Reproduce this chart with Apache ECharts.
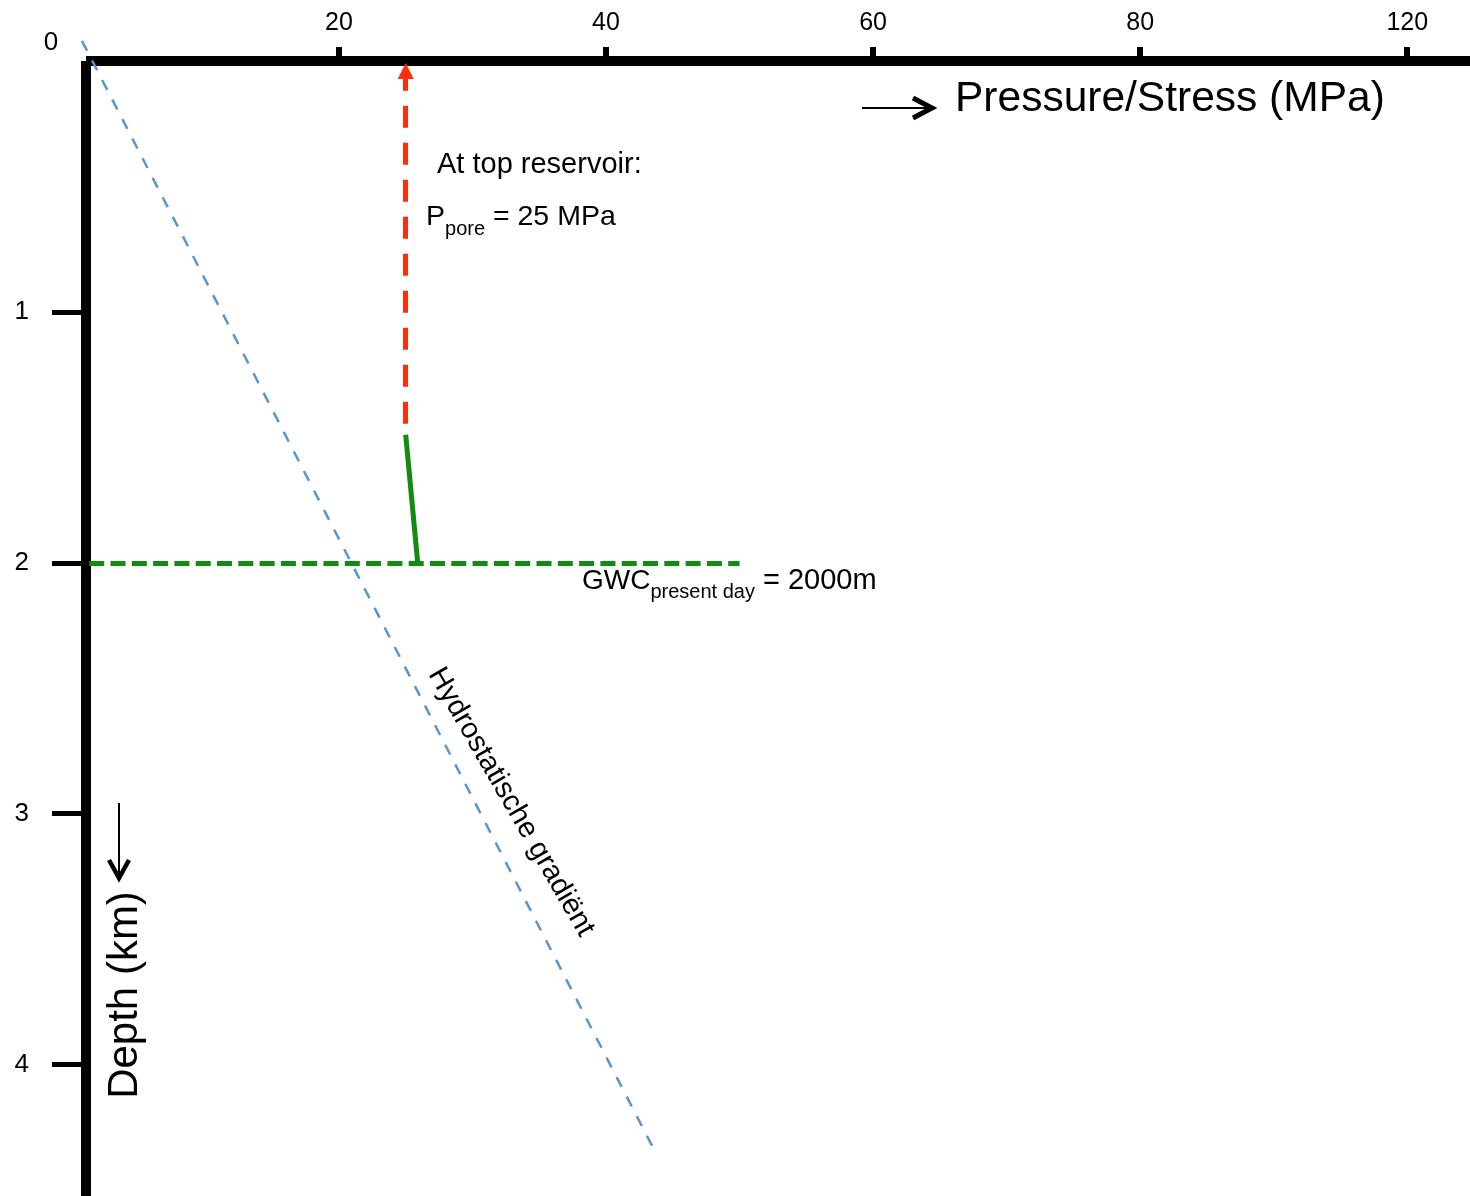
<!DOCTYPE html>
<html>
<head>
<meta charset="utf-8">
<script src="https://cdn.jsdelivr.net/npm/echarts@6/dist/echarts.min.js"></script>
<style>
  html, body { margin: 0; padding: 0; background: #ffffff; }
  #chart { width: 1470px; height: 1196px; }
</style>
</head>
<body>
<div id="chart"></div>
<script>
const FONT = '"Liberation Sans", Arial, Helvetica, sans-serif';

// Pressure axis (MPa), drawn along the top
const pressureTicks = [20, 40, 60, 80, 100];
const pressureTickLabels = ['20', '40', '60', '80', '120'];

// Depth axis (km), increasing downwards
const depthTicks = [1, 2, 3, 4];
const depthTickLabels = ['1', '2', '3', '4'];

// Line definitions as [pressure (MPa), depth (km)]
const hydrostaticGradient = [[0.76, -0.08], [43.8, 4.36]];
const porePressureTop = [[25, 1.49], [25, 0.04]];
const reservoirPressure = [[25, 1.49], [25.9, 2.0]];
const gwcPresentDay = [[1.3, 2.0], [50, 2.0]];

const chart = echarts.init(document.getElementById('chart'), null, { renderer: 'canvas' });

function lineSeries(name, coords, color, width, dash, extra) {
  return Object.assign({
    name: name,
    type: 'lines',
    coordinateSystem: 'cartesian2d',
    clip: false,
    polyline: false,
    symbol: ['none', 'none'],
    lineStyle: { color: color, width: width, type: dash || 'solid', opacity: 1, curveness: 0, cap: 'butt' },
    data: [{ coords: coords }],
    z: 3
  }, extra || {});
}

function txt(x, y, text, size, opts) {
  const o = opts || {};
  return {
    type: 'text',
    x: x, y: y,
    rotation: o.rotation || 0,
    z: 10,
    style: Object.assign({
      text: text,
      fontSize: size,
      fontFamily: FONT,
      fill: '#000',
      align: o.align || 'left',
      textAlign: o.align || 'left',
      verticalAlign: 'middle',
      textVerticalAlign: 'middle'
    }, o.style || {})
  };
}

const option = {
  animation: false,
  backgroundColor: '#ffffff',
  grid: { left: 86, right: 0, top: 61, bottom: 0, containLabel: false, outerBoundsMode: 'none' },
  xAxis: {
    type: 'value',
    position: 'top',
    min: 1.06,
    max: 104.7,
    axisLine: { show: true, onZero: false, lineStyle: { color: '#000', width: 10, cap: 'butt' } },
    axisTick: {
      show: true, inside: false, length: 14, customValues: pressureTicks,
      lineStyle: { color: '#000', width: 6 }
    },
    axisLabel: {
      show: true, margin: 25, customValues: pressureTicks,
      fontSize: 25, fontFamily: FONT, color: '#000',
      formatter: function (v) {
        const i = pressureTicks.indexOf(v);
        return i >= 0 ? pressureTickLabels[i] : '';
      }
    },
    splitLine: { show: false }
  },
  yAxis: {
    type: 'value',
    inverse: true,
    min: 0,
    max: 4.524,
    axisLine: { show: true, onZero: false, lineStyle: { color: '#000', width: 10, cap: 'butt' } },
    axisTick: {
      show: true, inside: false, length: 34, customValues: depthTicks,
      lineStyle: { color: '#000', width: 5 }
    },
    axisLabel: {
      show: true, margin: 57, customValues: depthTicks,
      fontSize: 26, fontFamily: FONT, color: '#000',
      formatter: function (v) {
        const i = depthTicks.indexOf(v);
        return i >= 0 ? depthTickLabels[i] : '';
      }
    },
    splitLine: { show: false }
  },
  series: [
    lineSeries('Hydrostatische gradiënt', hydrostaticGradient, '#5b95cd', 2.5, [11, 11]),
    lineSeries('GWC present day', gwcPresentDay, '#118c11', 5, [15, 6.3]),
    lineSeries('Reservoir pressure', reservoirPressure, '#118c11', 5, 'solid'),
    lineSeries('Pore pressure at top reservoir', porePressureTop, '#ff2d0a', 5, [22, 15], {
      symbol: ['none', 'triangle'],
      symbolSize: 16
    })
  ],
  graphic: [
    txt(51, 43, '0', 26, { align: 'center' }),
    txt(437, 165, 'At top reservoir:', 29),
    txt(426, 217, '{m|P}{s|pore}{m| = 25 MPa}', 28.5, {
      style: {
        rich: {
          m: { fontSize: 28.5, fontFamily: FONT, fill: '#000', verticalAlign: 'middle' },
          s: { fontSize: 20, fontFamily: FONT, fill: '#000', verticalAlign: 'middle', padding: [24, 0, 0, 0] }
        }
      }
    }),
    txt(582, 581, '{m|GWC}{s|present day}{e| = 2000m}', 28, {
      style: {
        rich: {
          m: { fontSize: 28, fontFamily: FONT, fill: '#000', verticalAlign: 'middle' },
          s: { fontSize: 20, fontFamily: FONT, fill: '#000', verticalAlign: 'middle', padding: [22, 0, 0, 0] },
          e: { fontSize: 29, fontFamily: FONT, fill: '#000', verticalAlign: 'middle' }
        }
      }
    }),
    txt(955, 99, 'Pressure/Stress (MPa)', 42.5),
    txt(125, 995, 'Depth (km)', 42, { align: 'center', rotation: Math.PI / 2 }),
    txt(511, 802, 'Hydrostatische gradiënt', 29, { align: 'center', rotation: -60 * Math.PI / 180 }),
    // direction arrow next to the pressure axis title
    { type: 'line', z: 10, shape: { x1: 862, y1: 108, x2: 929, y2: 108 }, style: { stroke: '#000', lineWidth: 2 } },
    { type: 'polyline', z: 10, shape: { points: [[913, 98], [932, 108], [913, 118]] },
      style: { stroke: '#000', lineWidth: 5, fill: null, lineJoin: 'miter' } },
    // direction arrow next to the depth axis title
    { type: 'line', z: 10, shape: { x1: 119, y1: 803, x2: 119, y2: 875 }, style: { stroke: '#000', lineWidth: 2 } },
    { type: 'polyline', z: 10, shape: { points: [[109, 860], [119, 878], [129, 860]] },
      style: { stroke: '#000', lineWidth: 4.5, fill: null, lineJoin: 'miter' } }
  ]
};

// Start the pore-pressure dashes with a short gap above the reservoir segment
option.series[3].lineStyle.dashOffset = 26;

chart.setOption(option);
</script>
</body>
</html>
